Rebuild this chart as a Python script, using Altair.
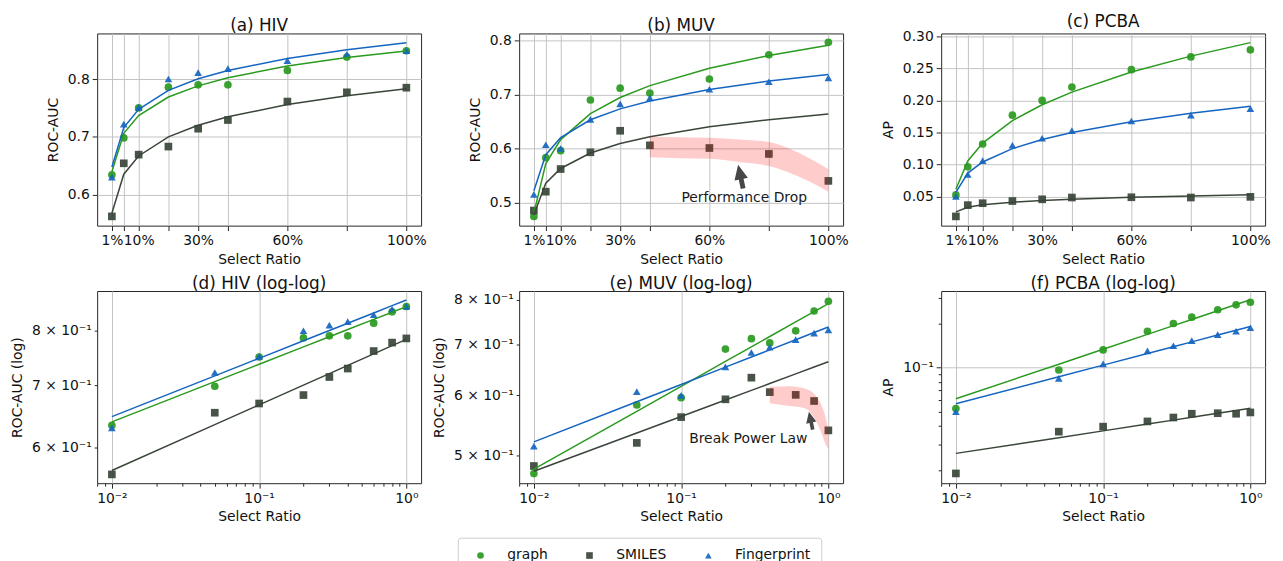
import altair as alt
import numpy as np
import pandas as pd

# ---------------- data ----------------
ratios = [0.01, 0.05, 0.1, 0.2, 0.3, 0.4, 0.6, 0.8, 1.0]
series_names = ["graph", "SMILES", "Fingerprint"]
series_colors = ["#2a9a1f", "#3a453a", "#1565c0"]
series_shapes = ["circle", "square", "triangle-up"]

hiv_graph = [0.634, 0.698, 0.750, 0.786, 0.790, 0.790, 0.815, 0.838, 0.849]
hiv_smiles = [0.562, 0.654, 0.669, 0.683, 0.714, 0.729, 0.761, 0.777, 0.785]
hiv_fp = [0.630, 0.722, 0.751, 0.800, 0.811, 0.818, 0.832, 0.843, 0.849]

muv_graph = [0.474, 0.583, 0.596, 0.690, 0.712, 0.703, 0.729, 0.774, 0.797]
muv_smiles = [0.485, 0.520, 0.562, 0.593, 0.633, 0.606, 0.601, 0.590, 0.540]
muv_fp = [0.515, 0.607, 0.600, 0.654, 0.683, 0.694, 0.710, 0.724, 0.731]
muv_smiles_fit_max = 0.4  # power-law fit of SMILES on MUV uses ratios up to 40%

pcba_graph = [0.0526, 0.0964, 0.132, 0.177, 0.200, 0.221, 0.248, 0.268, 0.279]
pcba_smiles = [0.019, 0.0366, 0.0396, 0.043, 0.0457, 0.0485, 0.0489, 0.0485, 0.0495]
pcba_fp = [0.050, 0.0845, 0.106, 0.130, 0.141, 0.153, 0.168, 0.177, 0.187]

# shaded "performance drop" bands (MUV)
band_b_x = [0.4, 0.5, 0.6, 0.7, 0.8, 0.9, 1.0]
band_b_hi = [0.622, 0.621, 0.620, 0.617, 0.612, 0.592, 0.5615]
band_b_lo = [0.584, 0.582, 0.581, 0.575, 0.5675, 0.548, 0.520]
band_e_x = [0.4, 0.55, 0.7, 0.8, 0.9, 0.95, 1.0]
band_e_hi = [0.616, 0.617, 0.612, 0.603, 0.582, 0.565, 0.540]
band_e_lo = [0.586, 0.581, 0.577, 0.561, 0.535, 0.520, 0.510]

# annotation arrows / texts
arrow_b = {"x": 0.705, "y": 0.548}
text_b = {"x": 0.717, "y": 0.508, "label": "Performance Drop"}
arrow_e = {"x": 0.76, "y": 0.556}
text_e = {"x": 0.286, "y": 0.5266, "label": "Break Power Law"}

# axis ticks
top_labeled = [0.01, 0.1, 0.3, 0.6, 1.0]
log_x_ticks = [0.008, 0.009, 0.01, 0.02, 0.03, 0.04, 0.05, 0.06, 0.07, 0.08, 0.09,
               0.1, 0.2, 0.3, 0.4, 0.5, 0.6, 0.7, 0.8, 0.9, 1.0]
log_x_major = [0.01, 0.1, 1.0]
log_x_labels = ["10⁻²", "10⁻¹", "10⁰"]

hiv_yticks = [0.6, 0.7, 0.8]
muv_yticks = [0.5, 0.6, 0.7, 0.8]
pcba_yticks = [0.05, 0.10, 0.15, 0.20, 0.25, 0.30]
hiv_log_yticks = [0.6, 0.7, 0.8]
hiv_log_ylabels = ["6 × 10⁻¹", "7 × 10⁻¹", "8 × 10⁻¹"]
muv_log_yticks = [0.5, 0.6, 0.7, 0.8]
muv_log_ylabels = ["5 × 10⁻¹", "6 × 10⁻¹", "7 × 10⁻¹", "8 × 10⁻¹"]
pcba_log_yticks = [0.02, 0.03, 0.04, 0.05, 0.06, 0.07, 0.08, 0.09, 0.1, 0.2, 0.3]
pcba_log_major = [0.1]
pcba_log_ylabels = ["10⁻¹"]

# axis domains
lin_x_domain = [-0.0395, 1.0495]
log_x_domain = [10 ** -2.1, 10 ** 0.1]
hiv_ydom = [0.546, 0.879]
muv_ydom = [0.457, 0.8135]
pcba_ydom = [0.0046, 0.3046]
hiv_log_ydom = [0.550, 0.882]
muv_log_ydom = [0.4605, 0.822]
pcba_log_ydom = [0.0163, 0.333]

W, H = 327, 194
FONT = "DejaVu Sans"


def power_fit(vals, fit_max):
    """least-squares fit of y = a * x**b (in linear space), evaluated at the ratios"""
    r = np.array(ratios)
    v = np.array(vals)
    m = r <= fit_max
    rm, vm = r[m], v[m]
    best = None
    for b in np.linspace(0.0005, 1.0, 4000):
        xb = rm ** b
        a = float(np.dot(vm, xb) / np.dot(xb, xb))
        sse = float(np.sum((vm - a * xb) ** 2))
        if best is None or sse < best[0]:
            best = (sse, a, b)
    _, a, b = best
    return list(a * r ** b)


def make_dfs(g, s, f, smiles_fit_max=1.0):
    rows, fits = [], []
    for name, vals in zip(series_names, (g, s, f)):
        fm = smiles_fit_max if name == "SMILES" else 1.0
        for r, v, fv in zip(ratios, vals, power_fit(vals, fm)):
            rows.append({"ratio": r, "value": v, "series": name})
            fits.append({"ratio": r, "value": fv, "series": name})
    return pd.DataFrame(rows), pd.DataFrame(fits)


def map_expr(vals, labels):
    parts = [f"datum.value == {v} ? '{t}'" for v, t in zip(vals, labels)]
    return " : ".join(parts) + " : ''"


def in_list(vals):
    return f"indexof({list(vals)}, datum.value) >= 0"


def panel(dfs, title, log, ydom, yaxis, extras=()):
    df, fdf = dfs
    if log:
        xs = alt.Scale(type="log", domain=log_x_domain, nice=False)
        xa = alt.Axis(values=log_x_ticks, labelExpr=map_expr(log_x_major, log_x_labels),
                      tickSize={"condition": {"test": in_list(log_x_major), "value": 5}, "value": 3},
                      gridOpacity={"condition": {"test": in_list(log_x_major), "value": 1}, "value": 0},
                      title="Select Ratio", labelOverlap=False)
        ys = alt.Scale(type="log", domain=ydom, nice=False)
    else:
        xs = alt.Scale(domain=lin_x_domain, nice=False, zero=False)
        xa = alt.Axis(values=ratios,
                      labelExpr=f"{in_list(top_labeled)} ? format(datum.value, '.0%') : ''",
                      title="Select Ratio", labelOverlap=False)
        ys = alt.Scale(domain=ydom, nice=False, zero=False)
    x = alt.X("ratio:Q", scale=xs, axis=xa)
    y = alt.Y("value:Q", scale=ys, axis=yaxis)
    color = alt.Color("series:N", scale=alt.Scale(domain=series_names, range=series_colors),
                      legend=alt.Legend(title=None))
    shape = alt.Shape("series:N", scale=alt.Scale(domain=series_names, range=series_shapes),
                      legend=alt.Legend(title=None))
    pts = alt.Chart(df).mark_point(filled=True, size=60, opacity=0.92).encode(
        x=x, y=y, color=color, shape=shape)
    fit = alt.Chart(fdf).mark_line(strokeWidth=1.5).encode(
        x=x, y=y,
        color=alt.Color("series:N", scale=alt.Scale(domain=series_names, range=series_colors), legend=None))
    layers = [pts, fit] + list(extras)
    return alt.layer(*layers).properties(width=W, height=H, title=title)


def annotations(bx, blo, bhi, arrow, text, asize):
    bdf = pd.DataFrame({"ratio": bx, "lo": blo, "hi": bhi})
    band = alt.Chart(bdf).mark_area(color="#ff0000", opacity=0.2, interpolate="monotone").encode(
        x="ratio:Q", y="lo:Q", y2="hi:Q")
    adf = pd.DataFrame([arrow])
    arrow_path = "M0,-1 L0.56,0.22 L0.2,0.22 L0.2,1 L-0.2,1 L-0.2,0.22 L-0.56,0.22 Z"
    arr = alt.Chart(adf).mark_point(shape=arrow_path, filled=True, size=asize, color="#474747",
                                    opacity=1, angle=348).encode(x="x:Q", y="y:Q")
    tdf = pd.DataFrame([text])
    txt = alt.Chart(tdf).mark_text(fontSize=14, font=FONT, color="#1a1a1a", align="center",
                                   baseline="middle").encode(x="x:Q", y="y:Q", text="label:N")
    return [band, arr, txt]


def lin_yaxis(title, vals, fmt):
    return alt.Axis(values=vals, format=fmt, title=title)


def log_yaxis(title, vals, labels, major=()):
    if major:
        return alt.Axis(values=vals, labelExpr=map_expr(major, labels), title=title,
                        tickSize={"condition": {"test": in_list(major), "value": 5}, "value": 3},
                        gridOpacity={"condition": {"test": in_list(major), "value": 1}, "value": 0},
                        labelOverlap=False)
    return alt.Axis(values=vals, labelExpr=map_expr(vals, labels), title=title,
                    tickSize=3, grid=False, labelOverlap=False)


hiv_dfs = make_dfs(hiv_graph, hiv_smiles, hiv_fp)
muv_dfs = make_dfs(muv_graph, muv_smiles, muv_fp, muv_smiles_fit_max)
pcba_dfs = make_dfs(pcba_graph, pcba_smiles, pcba_fp)

pa = panel(hiv_dfs, "(a) HIV", False, hiv_ydom, lin_yaxis("ROC-AUC", hiv_yticks, ".1f"))
pb = panel(muv_dfs, "(b) MUV", False, muv_ydom, lin_yaxis("ROC-AUC", muv_yticks, ".1f"),
           annotations(band_b_x, band_b_lo, band_b_hi, arrow_b, text_b, 600))
pc = panel(pcba_dfs, "(c) PCBA", False, pcba_ydom, lin_yaxis("AP", pcba_yticks, ".2f"))
pd_ = panel(hiv_dfs, "(d) HIV (log-log)", True, hiv_log_ydom,
            log_yaxis("ROC-AUC (log)", hiv_log_yticks, hiv_log_ylabels))
pe = panel(muv_dfs, "(e) MUV (log-log)", True, muv_log_ydom,
           log_yaxis("ROC-AUC (log)", muv_log_yticks, muv_log_ylabels),
           annotations(band_e_x, band_e_lo, band_e_hi, arrow_e, text_e, 340))
pf = panel(pcba_dfs, "(f) PCBA (log-log)", True, pcba_log_ydom,
           log_yaxis("AP", pcba_log_yticks, pcba_log_ylabels, pcba_log_major))

chart = (alt.concat(pa, pb, pc, pd_, pe, pf, columns=3, bounds="flush",
                    spacing={"row": 66, "column": 99})
         .properties(padding={"left": 2, "top": 2, "right": 4, "bottom": 0})
         .configure_view(stroke="#262626", strokeWidth=1)
         .configure_axis(domain=False, tickColor="#262626", tickSize=5, tickWidth=1,
                         labelFont=FONT, labelFontSize=14, labelColor="#111", labelPadding=3,
                         titleFont=FONT, titleFontSize=14, titleFontWeight="normal", titleColor="#111",
                         gridColor="#c2c2c2", gridWidth=1, titlePadding=5)
         .configure_axisY(titlePadding=7)
         .configure_title(font=FONT, fontSize=17, fontWeight="normal", color="#111", offset=-2)
         .configure_legend(orient="none", legendX=364, legendY=509, direction="horizontal", columns=3,
                           symbolSize=45, labelFont=FONT, labelFontSize=14, labelColor="#111",
                           labelOffset=20, columnPadding=30, padding=11, symbolOffset=5,
                           strokeColor="#cccccc", cornerRadius=3, fillColor="white",
                           symbolStrokeWidth=0)
         )

chart.save("out.html", embed_options={"renderer": "svg", "actions": False})
